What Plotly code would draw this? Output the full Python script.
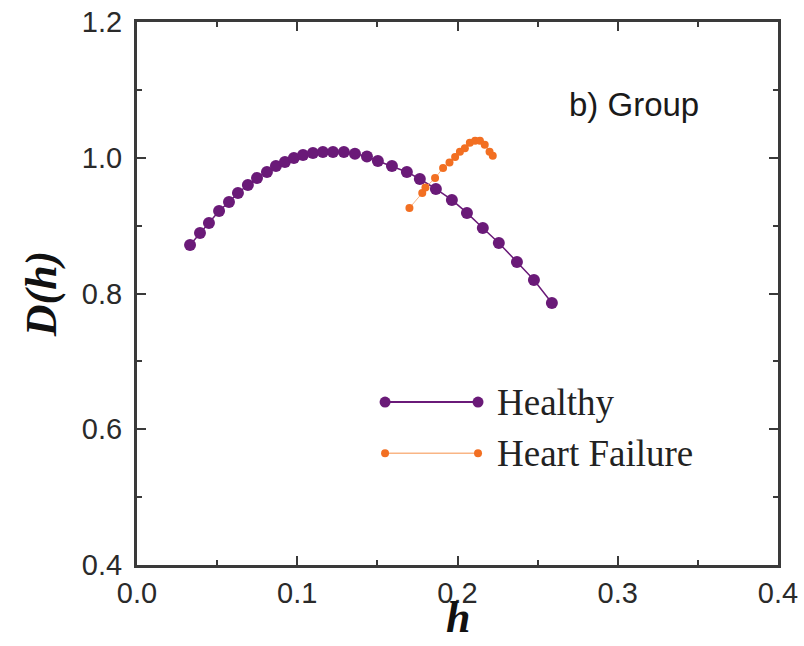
import plotly.graph_objects as go

# Multifractal spectrum D(h), group averages
healthy_h = [0.0331, 0.0393, 0.0449, 0.0512, 0.0574, 0.0630, 0.0692, 0.0749,
             0.0811, 0.0867, 0.0923, 0.0979, 0.1036, 0.1098, 0.1160, 0.1223,
             0.1291, 0.1360, 0.1435, 0.1503, 0.1591, 0.1684, 0.1765, 0.1865,
             0.1965, 0.2059, 0.2158, 0.2258, 0.2371, 0.2477, 0.2589]
healthy_d = [0.8715, 0.8892, 0.9039, 0.9216, 0.9349, 0.9481, 0.9599, 0.9702,
             0.9791, 0.9879, 0.9938, 0.9997, 1.0041, 1.0070, 1.0085, 1.0085,
             1.0085, 1.0060, 1.0020, 0.9953, 0.9879, 0.9791, 0.9687, 0.9540,
             0.9378, 0.9187, 0.8966, 0.8745, 0.8465, 0.8200, 0.7861]

failure_h = [0.1700, 0.1780, 0.1800, 0.1860, 0.1910, 0.1950, 0.1985, 0.2015,
             0.2046, 0.2077, 0.2110, 0.2140, 0.2170, 0.2200, 0.2220]
failure_d = [0.9260, 0.9480, 0.9560, 0.9700, 0.9850, 0.9930, 1.0010, 1.0090,
             1.0140, 1.0220, 1.0250, 1.0250, 1.0190, 1.0090, 1.0030]

legend_names = ["Healthy", "Heart Failure"]

PURPLE = "#6a1a78"
ORANGE = "#f26f22"
ORANGE_LINE = "#f9b585"
AXIS = "#3a3a3a"

fig = go.Figure()

fig.add_trace(go.Scatter(
    x=healthy_h, y=healthy_d, mode="lines+markers", name=legend_names[0],
    line=dict(color=PURPLE, width=1.5),
    marker=dict(color=PURPLE, size=12), showlegend=False))

fig.add_trace(go.Scatter(
    x=failure_h, y=failure_d, mode="lines+markers", name=legend_names[1],
    line=dict(color=ORANGE_LINE, width=1),
    marker=dict(color=ORANGE, size=8), showlegend=False))

# Legend samples: a line with a marker at each end, drawn on a unit overlay axis
legend_rows = [(0.300, PURPLE, PURPLE, 11, 2), (0.206, ORANGE_LINE, ORANGE, 8, 1.5)]
for (yy, lc, mc, ms, lw), name in zip(legend_rows, legend_names):
    fig.add_trace(go.Scatter(
        x=[0.387, 0.532], y=[yy, yy], xaxis="x2", yaxis="y2",
        mode="lines+markers", line=dict(color=lc, width=lw),
        marker=dict(color=mc, size=ms), showlegend=False, hoverinfo="skip"))
    fig.add_annotation(x=0.558, y=yy, xref="x2", yref="y2", text=name,
                       showarrow=False, xanchor="left", yanchor="middle",
                       font=dict(family="Liberation Serif", size=37, color="#222"))

fig.add_annotation(x=0.880, y=0.848, xref="x2", yref="y2", text="b) Group",
                   showarrow=False, xanchor="right", yanchor="middle",
                   font=dict(family="Liberation Sans", size=33, color="#1a1a1a"))

# x-axis title, set below the tick labels
fig.add_annotation(x=0.5, y=-0.0976, xref="paper", yref="paper",
                   text="<b><i>h</i></b>", showarrow=False, borderpad=0,
                   xanchor="center", yanchor="middle",
                   font=dict(family="Liberation Serif", size=44, color="#111"))

tick_font = dict(family="Liberation Sans", size=29, color="#2a2a2a")
axis_common = dict(showgrid=False, zeroline=False, showline=True, linecolor=AXIS,
                   linewidth=3, mirror="allticks", ticks="inside", ticklen=9,
                   tickwidth=2, tickcolor=AXIS, tickfont=tick_font,
                   automargin=False)

fig.update_layout(
    width=804, height=646,
    margin=dict(l=137, r=26, t=22, b=81),
    paper_bgcolor="white", plot_bgcolor="white",
    xaxis=dict(range=[0, 0.4], tickvals=[0, 0.1, 0.2, 0.3, 0.4],
               ticktext=["0.0", "0.1", "0.2", "0.3", "0.4"],
               minor=dict(ticks="inside", dtick=0.05, ticklen=5, tickwidth=2,
                          tickcolor=AXIS),
               ticklabelstandoff=0,
               **axis_common),
    yaxis=dict(range=[0.4, 1.2], tickvals=[0.4, 0.6, 0.8, 1.0, 1.2],
               ticktext=["0.4", "0.6", "0.8", "1.0", "1.2"],
               minor=dict(ticks="inside", dtick=0.1, ticklen=5, tickwidth=2,
                          tickcolor=AXIS),
               ticklabelstandoff=6,
               title=dict(text="<b><i>D(h)</i></b>", standoff=12,
                          font=dict(family="Liberation Serif", size=44, color="#111")),
               **axis_common),
    xaxis2=dict(range=[0, 1], overlaying="x", visible=False, fixedrange=True),
    yaxis2=dict(range=[0, 1], overlaying="y", visible=False, fixedrange=True),
)

fig.write_html("out.html")
